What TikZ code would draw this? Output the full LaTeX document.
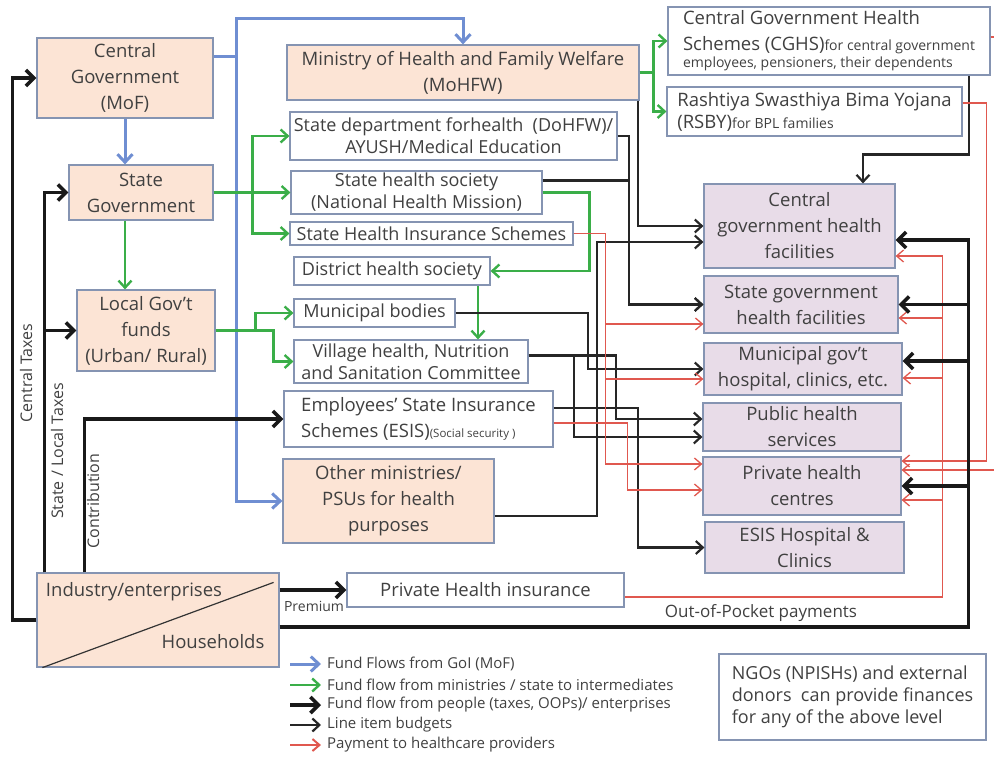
\documentclass[tikz,border=0pt]{standalone}
\usepackage{fontspec}
\setmainfont{Open Sans}
\usetikzlibrary{arrows.meta,calc}

\definecolor{peach}{HTML}{FCE4D5}
\definecolor{lilac}{HTML}{E8DCE8}
\definecolor{edgeblue}{HTML}{8594B2}
\definecolor{ink}{HTML}{404040}
\definecolor{gofblue}{HTML}{6F8ED2}
\definecolor{midgreen}{HTML}{3AAE48}
\definecolor{payred}{HTML}{E0584F}

\newcommand{\boxfont}{\fontsize{18.5}{26}\selectfont}
\newcommand{\subfont}{\fontsize{18}{22}\selectfont}
\newcommand{\notefont}{\fontsize{14}{16}\selectfont}
\newcommand{\tinynote}{\fontsize{11.5}{13}\selectfont}
\newcommand{\legendfont}{\fontsize{15}{17}\selectfont}
\newcommand{\sidefont}{\fontsize{16}{18}\selectfont}

\begin{document}
\begin{tikzpicture}[x=1pt,y=-1pt,
  every node/.style={text=ink,align=center,inner sep=1pt,font=\boxfont},
  box/.style={draw=edgeblue,line width=1.2pt},
  gov/.style={box,fill=peach},
  care/.style={box,fill=lilac},
  blueflow/.style={draw=gofblue,line width=3pt,-{Straight Barb[length=8pt,width=15pt]}},
  greenflow/.style={draw=midgreen,line width=2.4pt,-{Straight Barb[length=7pt,width=13pt]}},
  peopleflow/.style={draw=black!90,line width=3.6pt,-{Straight Barb[length=8pt,width=16pt]}},
  budgetflow/.style={draw=black!85,line width=2.2pt,-{Straight Barb[length=7pt,width=13pt]}},
  payflow/.style={draw=payred,line width=1.3pt,-{Straight Barb[length=7pt,width=12pt]}}]
\useasboundingbox (0,0) rectangle (994,757);

\node[gov,minimum width=176,minimum height=80] (cg)    at (125,78)    {Central\\Government\\(MoF)};
\node[gov,minimum width=144,minimum height=55] (sg)    at (141,192.5) {State\\Government};
\node[gov,minimum width=138,minimum height=81] (lg)    at (146,330.5) {Local Gov’t\\funds\\(Urban/ Rural)};
\node[gov,minimum width=352,minimum height=55] (mohfw) at (463,72.5)  {Ministry of Health and Family Welfare\\(MoHFW)};
\node[box,minimum width=327,minimum height=48,font=\subfont] (dohfw) at (453.5,136)  {State department forhealth\ \ (DoHFW)/\\AYUSH/Medical Education};
\node[box,minimum width=251,minimum height=43,font=\subfont] (shs)   at (416.5,192.5){State health society\\(National Health Mission)};
\node[box,minimum width=283,minimum height=23,font=\subfont] (shis)  at (431.5,233.5){State Health Insurance Schemes};
\node[box,minimum width=196,minimum height=28,font=\subfont] (dhs)   at (392,271)    {District health society};
\node[box,minimum width=161,minimum height=28,font=\subfont] (mb)    at (374.5,313)  {Municipal bodies};
\node[box,minimum width=234,minimum height=43,font=\subfont] (vhn)   at (411,361.5)  {Village health, Nutrition\\and Sanitation Committee};
\node[box,minimum width=269,minimum height=56,align=left] (esis) at (418.5,419) {Employees’ State Insurance\\Schemes (ESIS){\tinynote(Social security )}};
\node[gov,minimum width=211,minimum height=84] (om)    at (388.5,501) {Other ministries/\\PSUs for health\\purposes};
\node[gov,minimum width=242,minimum height=94] (ind)   at (158,620)   {};
\node[box,minimum width=277,minimum height=34] (phi)   at (485.5,590) {Private Health insurance};
\node[box,minimum width=322,minimum height=68,align=left] (cghs) at (829,41) {Central Government Health\\[0pt]Schemes (CGHS){\notefont for central government}\\[-9pt]{\notefont employees, pensioners, their dependents}};
\node[box,minimum width=295,minimum height=49,align=left] (rsby) at (814.5,111.5) {Rashtiya Swasthiya Bima Yojana\\[-4pt](RSBY){\notefont for BPL families}};
\node[care,minimum width=191,minimum height=84] (cghf)  at (799.5,226) {Central\\government health\\facilities};
\node[care,minimum width=194,minimum height=57] (sghf)  at (801,304.5) {State government\\health facilities};
\node[care,minimum width=198,minimum height=52] (mgh)   at (803,369)   {Municipal gov’t\\hospital, clinics, etc.};
\node[care,minimum width=198,minimum height=48] (phs)   at (802,427)   {Public health\\services};
\node[care,minimum width=198,minimum height=58] (phc)   at (802,486)   {Private health\\centres};
\node[care,minimum width=199,minimum height=51] (esish) at (804.5,547.5) {ESIS Hospital \&\\Clinics};
\node[box,minimum width=267,minimum height=86,align=left,font=\subfont] (ngo) at (852.5,697) {NGOs (NPISHs) and external\\donors\ \ can provide finances\\for any of the above level};

\draw[line width=1.2pt,black!80] ($(ind.south west)+(6,0)$) -- ($(ind.north east)+(-6,10)$);
\node (indtxt) at (134,592) {Industry/enterprises};
\node (hhtxt)  at (213,642) {Households};

\node[font=\sidefont,rotate=90] (ctax)    at (26,373) {Central Taxes};
\node[font=\sidefont,rotate=90] (stax)    at (57,451) {State / Local Taxes};
\node[font=\sidefont,rotate=90] (contrib) at (93,501) {Contribution};
\node[font=\notefont] (prem) at (314,606) {Premium};
\node[font=\fontsize{17}{19}\selectfont] (oop) at (761,613) {Out-of-Pocket payments};

\draw[blueflow] (cg.south) -- (cg.south |- sg.north);
\draw[blueflow] ($(cg.east)+(0,-21)$) -| (236,19) -| (mohfw.north);
\draw[blueflow] ($(cg.east)+(0,-21)$) -- (236,57) |- (om.west);

\draw[greenflow] (mohfw.east) -- ++(14,0) |- (cghs.west);
\draw[greenflow] (mohfw.east) -- ++(14,0) |- (rsby.west);
\draw[greenflow] (sg.east) -- (shs.west);
\draw[greenflow] (sg.east) -- ++(39,0) |- (dohfw.west);
\draw[greenflow] (sg.east) -- ++(39,0) |- (shis.west);
\draw[greenflow] (sg.south -| cg.south) -- (lg.north -| cg.south);
\draw[greenflow] (lg.east) -- ++(40,0) |- (mb.west);
\draw[greenflow] (lg.east) -- ++(58,0) |- (vhn.west);
\draw[greenflow] (shs.east) -- ++(47,0) |- (dhs.east);
\draw[greenflow] ($(dhs.south)+(86,0)$) -- ($(vhn.north)+(67,0)$);

\draw[budgetflow] ($(mohfw.south east)+(-2,0)$) |- (cghf.west);
\draw[budgetflow] (dohfw.east) -- ++(11,0) |- (sghf.west);
\draw[budgetflow] ($(shs.east)+(0,-12)$) -- ++(86,0) |- (sghf.west);
\draw[budgetflow] ($(om.east)+(0,15)$) -- ++(102,0) |- ($(cghf.west)+(0,16)$);
\draw[budgetflow] (mb.east) -- ++(132,0) |- (mgh.west);
\draw[budgetflow] ($(vhn.east)+(0,-6)$) -- ++(87,0) |- ($(phs.west)+(0,-8)$);
\draw[budgetflow] ($(vhn.east)+(0,-6)$) -- ++(45,0) |- ($(phs.west)+(0,10)$);
\draw[budgetflow] ($(esis.east)+(0,-11)$) -- ++(84,0) |- (esish.west);
\draw[budgetflow] ($(cghs.south east)+(-22,0)$) -- ++(0,79) -| ($(cghf.north)+(63.5,0)$);

\draw[payflow] (shis.east) -- ++(32,0) |- ($(sghf.west)+(0,19.5)$);
\draw[payflow] (shis.east) -- ++(32,0) |- ($(mgh.west)+(0,10)$);
\draw[payflow] (shis.east) -- ++(32,0) |- ($(phc.west)+(0,-22)$);
\draw[payflow] ($(esis.east)+(0,4)$) -- ++(74,0) |- ($(phc.west)+(0,4)$);
\draw[payflow] ($(phi.east)+(0,7)$) -| ($(cghf.east)+(47,30)$) -- +(-47,0);
\draw[payflow] ($(sghf.east)+(44,13.5)$) -- +(-44,0);
\draw[payflow] ($(mgh.east)+(39,9)$) -- +(-39,0);
\draw[payflow] ($(phc.east)+(41,14)$) -- +(-41,0);
\draw[payflow] ($(rsby.east)+(0,-8.5)$) -| ($(phc.east)+(85,-25)$) -- +(-85,0);
\draw[payflow] ($(cghs.east)+(0,-4)$) -| ($(phc.east)+(110,-16)$) -- +(-110,0);

\draw[peopleflow] (ind.west) -- ++(-24,0) |- (cg.west);
\draw[peopleflow] ($(ind.north west)+(8,0)$) |- (sg.west);
\draw[peopleflow] ($(ind.north west)+(8,0)$) |- (lg.west);
\draw[peopleflow] ($(ind.north west)+(48,0)$) |- (esis.west);
\draw[peopleflow] ($(ind.east)+(0,-30)$) -- (phi.west);
\draw[peopleflow] ($(ind.east)+(0,7)$) -| ($(cghf.east)+(73,14)$) -- +(-73,0);
\draw[peopleflow] ($(sghf.east)+(70,0)$) -- (sghf.east);
\draw[peopleflow] ($(mgh.east)+(65,-8)$) -- +(-65,0);
\draw[peopleflow] ($(phc.east)+(67,0)$) -- (phc.east);

\node[anchor=west,font=\legendfont] (leg1) at (326,664) {Fund Flows from GoI (MoF)};
\node[anchor=west,font=\legendfont] (leg2) at (326,685) {Fund flow from ministries / state to intermediates};
\node[anchor=west,font=\legendfont] (leg3) at (326,705) {Fund flow from people (taxes, OOPs)/ enterprises};
\node[anchor=west,font=\legendfont] (leg4) at (326,725) {Line item budgets};
\node[anchor=west,font=\legendfont] (leg5) at (326,745) {Payment to healthcare providers};
\draw[blueflow]   ($(leg1.west)+(-36,0)$) -- ($(leg1.west)+(-5,0)$);
\draw[greenflow]  ($(leg2.west)+(-36,0)$) -- ($(leg2.west)+(-5,0)$);
\draw[peopleflow] ($(leg3.west)+(-36,0)$) -- ($(leg3.west)+(-5,0)$);
\draw[budgetflow] ($(leg4.west)+(-36,0)$) -- ($(leg4.west)+(-5,0)$);
\draw[payflow,line width=2pt] ($(leg5.west)+(-36,0)$) -- ($(leg5.west)+(-5,0)$);
\end{tikzpicture}
\end{document}
